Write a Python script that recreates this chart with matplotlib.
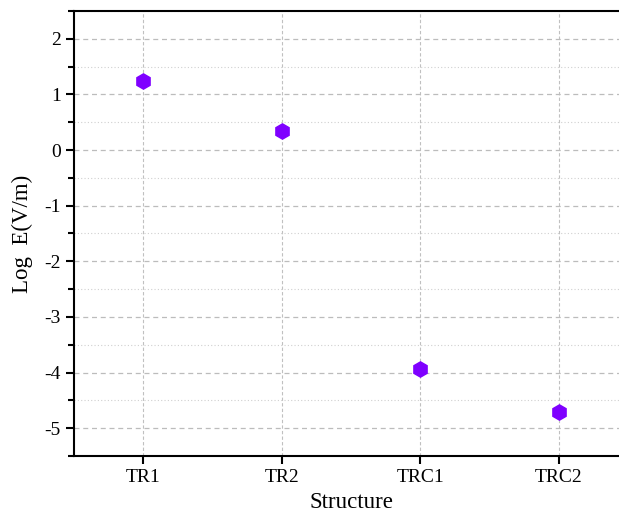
import matplotlib
matplotlib.use("Agg")
import matplotlib.pyplot as plt
from matplotlib.ticker import MultipleLocator

structures = ["TR1", "TR2", "TRC1", "TRC2"]
log_e = [1.245, 0.345, -3.935, -4.71]

plt.rcParams['font.family'] = ['Liberation Serif', 'DejaVu Serif']
plt.rcParams['axes.unicode_minus'] = False

fig = plt.figure(figsize=(6.19, 5.14), dpi=100)
# right spine sits just outside the picture, as in the reference
ax = fig.add_axes([74 / 619, 58 / 514, 554 / 619, 445 / 514])

x = list(range(len(structures)))
ax.plot(x, log_e, linestyle="none", marker="h", markersize=11,
        color="#7f00ff", zorder=3)

ax.set_xlim(-0.5, 3.5)
ax.set_ylim(-5.5, 2.5)
ax.set_xticks(x)
ax.set_xticklabels(structures)
ax.yaxis.set_major_locator(MultipleLocator(1))
ax.yaxis.set_minor_locator(MultipleLocator(0.5))

ax.grid(True, which="major", axis="y", linestyle=(0, (4, 3)), color="#bcbcbc", linewidth=0.9)
ax.grid(True, which="minor", axis="y", linestyle=(0, (1, 2)), color="#d0d0d0", linewidth=0.8)
ax.grid(True, which="major", axis="x", linestyle=(0, (3, 2)), color="#c0c0c0", linewidth=0.8)

for s in ax.spines.values():
    s.set_linewidth(1.5)
ax.tick_params(axis="both", which="major", direction="out", length=6, width=1.5,
               labelsize=14, top=False, right=False)
ax.tick_params(axis="y", which="minor", direction="out", length=4, width=1.5, right=False)
ax.tick_params(axis="x", which="minor", bottom=False)

ax.set_xlabel("Structure", fontsize=16.5, labelpad=4)
ax.set_ylabel("Log  E(V/m)", fontsize=16.5, labelpad=8)

fig.savefig("out.png", dpi=100)
